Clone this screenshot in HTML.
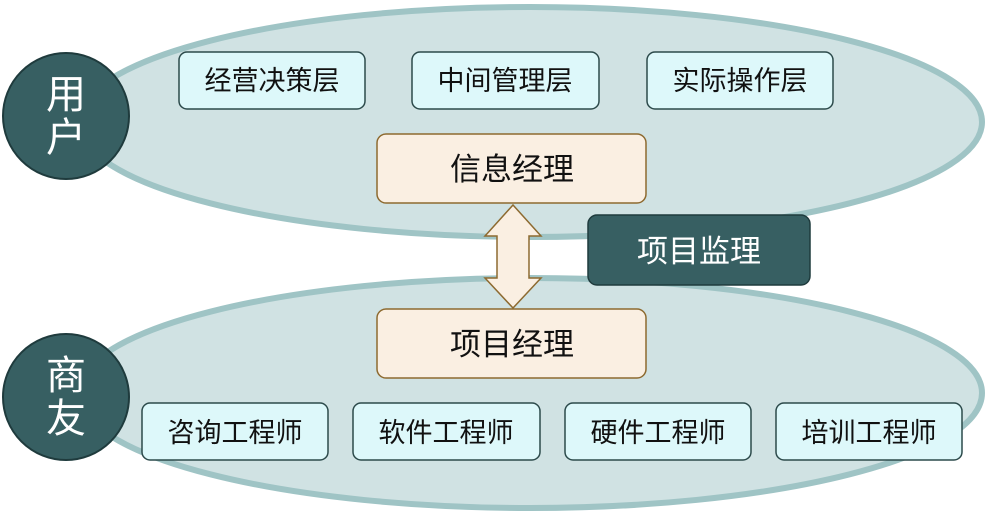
<!DOCTYPE html><html><head><meta charset="utf-8"><style>body{margin:0;width:991px;height:512px;overflow:hidden;background:#fff}</style></head><body>
<svg width="991" height="512" xmlns="http://www.w3.org/2000/svg" font-family="Liberation Sans, Noto Sans CJK SC, sans-serif">
<ellipse cx="530" cy="122" rx="452" ry="115" fill="#d0e2e3" stroke="#9fc4c5" stroke-width="6"/>
<ellipse cx="530" cy="393" rx="452" ry="115" fill="#d0e2e3" stroke="#9fc4c5" stroke-width="6"/>
<circle cx="66" cy="116" r="63" fill="#375f62" stroke="#1f3b3d" stroke-width="2"/>
<circle cx="66" cy="397" r="63" fill="#375f62" stroke="#1f3b3d" stroke-width="2"/>
<g fill="#fff" font-size="40" text-anchor="middle"><text x="66" y="108">用</text><text x="66" y="151">户</text><text x="66" y="389">商</text><text x="66" y="432">友</text></g>
<g fill="#ddf8fa" stroke="#2c4a4b" stroke-width="1.5">
<rect x="179" y="52" width="186" height="57" rx="8"/><rect x="412" y="52" width="187" height="57" rx="8"/><rect x="647" y="52" width="186" height="57" rx="8"/>
<rect x="142" y="403" width="186" height="57" rx="8"/><rect x="353" y="403" width="187" height="57" rx="8"/><rect x="565" y="403" width="186" height="57" rx="8"/><rect x="776" y="403" width="186" height="57" rx="8"/>
</g>
<g font-size="27" text-anchor="middle" fill="#111">
<text x="272" y="90">经营决策层</text><text x="505" y="90">中间管理层</text><text x="740" y="90">实际操作层</text>
<text x="235" y="442">咨询工程师</text><text x="446" y="442">软件工程师</text><text x="658" y="442">硬件工程师</text><text x="869" y="442">培训工程师</text>
</g>
<g fill="#faefe2" stroke="#8d6a30" stroke-width="1.5">
<rect x="377" y="134" width="269" height="69" rx="9"/><rect x="377" y="309" width="269" height="69" rx="9"/>
<polygon points="513,205 541,236 529,236 529,278 541,278 513,308 485,278 497,278 497,236 485,236"/>
</g>
<g font-size="31" text-anchor="middle" fill="#111"><text x="512" y="180">信息经理</text><text x="512" y="355">项目经理</text></g>
<rect x="588" y="215" width="222" height="70" rx="9" fill="#375f62" stroke="#1f3b3d" stroke-width="1.5"/>
<text x="699" y="262" font-size="31" text-anchor="middle" fill="#fff">项目监理</text>
</svg></body></html>
